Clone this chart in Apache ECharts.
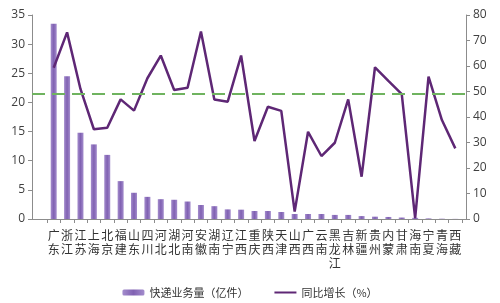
<!DOCTYPE html>
<html>
<head>
<meta charset="utf-8">
<script src="https://cdn.jsdelivr.net/npm/echarts@6/dist/echarts.min.js"></script>
<style>
html,body{margin:0;padding:0;background:#fff;}
#main{width:500px;height:303px;}
</style>
</head>
<body>
<div id="main"></div>
<script>
const provinces = ['广东','浙江','江苏','上海','北京','福建','山东','四川','河北','湖北','河南','安徽','湖南','辽宁','江西','重庆','陕西','天津','山西','广西','云南','黑龙江','吉林','新疆','贵州','内蒙','甘肃','海南','宁夏','青海','西藏'];
const volume = [33.5,24.5,14.8,12.8,11.0,6.5,4.5,3.8,3.4,3.3,3.0,2.4,2.2,1.65,1.6,1.37,1.37,1.2,0.86,0.86,0.86,0.7,0.7,0.5,0.4,0.35,0.25,0.2,0.1,0.05,0.02];
const growth = [59.3,73.2,51.0,35.2,35.8,46.9,42.5,55.2,64.1,50.6,51.5,73.5,46.9,46.0,64.1,30.6,44.0,42.4,2.9,34.2,24.7,29.9,46.9,16.6,59.5,54.2,49.0,0.3,55.8,38.8,27.7];
const averageGrowth = 49;
const leftTicks = {min: 0, max: 35, interval: 5};
const rightTicks = {min: 0, max: 80, interval: 10};
const volumeName = '快递业务量（亿件）';
const growthName = '同比增长（%）';

const chart = echarts.init(document.getElementById('main'), null, {renderer: 'canvas'});
const axisColor = '#8c8c8c';
const labelFont = {color: '#404040', fontSize: 12, fontFamily: 'Open Sans, Noto Sans, sans-serif'};
chart.setOption({
  animation: false,
  backgroundColor: '#ffffff',
  grid: [
    {left: 47, right: 38, top: 15, bottom: 84},
    {left: 32, right: 34, top: 15, bottom: 84}
  ],
  legend: {
    top: 282, left: 'center', itemGap: 25, itemWidth: 22, itemHeight: 6,
    textStyle: {fontSize: 11, color: '#333', fontFamily: 'Noto Sans CJK SC'},
    data: [volumeName, {name: growthName, itemStyle: {opacity: 0}}]
  },
  xAxis: [
    {
      type: 'category', gridIndex: 0, data: provinces,
      axisLine: {show: true, lineStyle: {color: axisColor, width: 1}},
      axisTick: {show: true, length: 4, lineStyle: {color: axisColor}},
      axisLabel: {
        interval: 0, margin: 9, fontSize: 12, lineHeight: 14, color: '#333',
        fontFamily: 'Noto Sans CJK SC',
        formatter: v => v.split('').join('\n')
      }
    },
    {
      type: 'category', gridIndex: 1, data: [''],
      axisLine: {show: true, lineStyle: {color: axisColor, width: 1}},
      axisTick: {show: false}, axisLabel: {show: false}
    }
  ],
  yAxis: [
    {
      type: 'value', gridIndex: 0, position: 'left', offset: 15,
      min: leftTicks.min, max: leftTicks.max, interval: leftTicks.interval,
      axisLine: {show: true, lineStyle: {color: axisColor}},
      axisTick: {show: true, length: 4, lineStyle: {color: axisColor}},
      axisLabel: Object.assign({margin: 7}, labelFont),
      splitLine: {show: false}
    },
    {
      type: 'value', gridIndex: 0, position: 'right', offset: 4,
      min: rightTicks.min, max: rightTicks.max, interval: rightTicks.interval,
      axisLine: {show: true, lineStyle: {color: axisColor}},
      axisTick: {show: true, length: 4, lineStyle: {color: axisColor}},
      axisLabel: Object.assign({margin: 7}, labelFont),
      splitLine: {show: false}
    },
    {
      type: 'value', gridIndex: 1, show: false,
      min: rightTicks.min, max: rightTicks.max
    }
  ],
  series: [
    {
      name: volumeName, type: 'bar', xAxisIndex: 0, yAxisIndex: 0,
      data: volume, barWidth: 6,
      itemStyle: {
        color: new echarts.graphic.LinearGradient(0, 0, 1, 0, [
          {offset: 0, color: '#a48dcd'},
          {offset: 0.5, color: '#8061b2'},
          {offset: 1, color: '#a48dcd'}
        ])
      }
    },
    {
      name: growthName, type: 'line', xAxisIndex: 0, yAxisIndex: 1,
      data: growth, symbol: 'none', smooth: false,
      lineStyle: {color: '#5e2775', width: 2.5},
      itemStyle: {color: '#5e2775'}
    },
    {
      name: 'avg', type: 'line', xAxisIndex: 1, yAxisIndex: 2,
      data: [], symbol: 'none',
      markLine: {
        silent: true, symbol: ['none', 'none'], label: {show: false},
        lineStyle: {color: '#6fb35f', type: [13, 7], width: 2},
        data: [{yAxis: averageGrowth}]
      }
    }
  ]
});
</script>
</body>
</html>
